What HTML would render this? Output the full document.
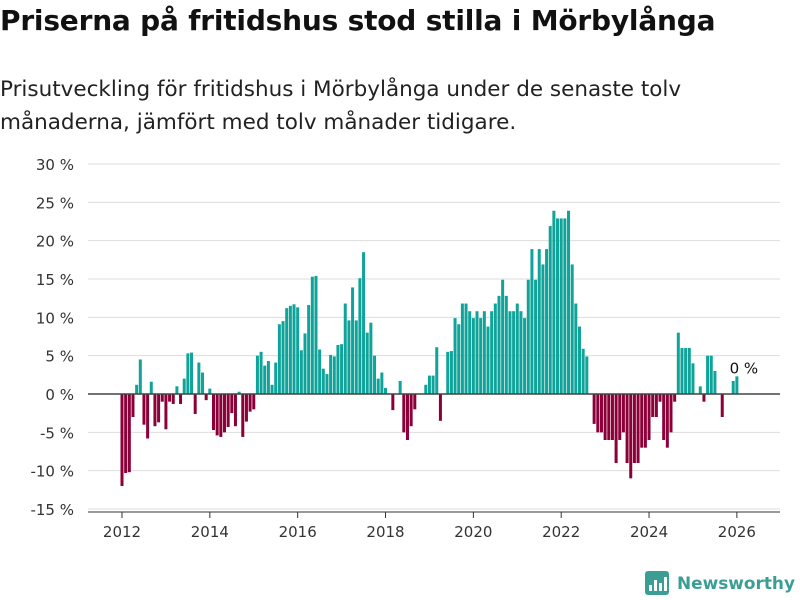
<!DOCTYPE html>
<html><head><meta charset="utf-8"><style>
body{margin:0;width:800px;height:600px;background:#fff;font-family:"DejaVu Sans","Liberation Sans",sans-serif;overflow:hidden;position:relative}
#title{position:absolute;left:0;top:4px;font-size:28px;font-weight:bold;color:#111;letter-spacing:-0.2px;white-space:nowrap}
#sub{position:absolute;left:0;top:73px;font-size:21.5px;line-height:33px;color:#222;white-space:nowrap}
svg{position:absolute;left:0;top:0}
</style></head><body>
<div id="title">Priserna på fritidshus stod stilla i Mörbylånga</div>
<div id="sub">Prisutveckling för fritidshus i Mörbylånga under de senaste tolv<br>månaderna, jämfört med tolv månader tidigare.</div>
<svg id="chart" width="800" height="600"></svg>
<script>
const startYear = 2012;
const values = [-12,-10.3,-10.2,-3,1.2,4.5,-4,-5.8,1.6,-4.2,-3.7,-1,-4.6,-1,-1.3,1,-1.3,2,5.3,5.4,-2.6,4.1,2.8,-0.8,0.7,-4.7,-5.4,-5.6,-5,-4.3,-2.5,-4.2,0.3,-5.6,-3.6,-2.3,-2,
5,5.5,3.7,4.3,1.2,4.1,9.1,9.5,11.2,11.5,11.7,11.3,5.7,7.9,11.6,15.3,15.4,5.8,3.3,2.6,5.1,4.9,6.4,6.5,11.8,9.6,13.9,9.6,15.1,18.5,8,9.3,5,2,2.8,0.8,
0,-2.1,0,1.7,-5,-6,-4.2,-2,0,0,1.2,2.4,2.4,6.1,-3.5,0,
5.5,5.6,9.9,9.1,11.8,11.8,10.8,9.9,10.8,9.9,10.8,8.8,10.8,11.8,12.8,14.9,12.8,10.8,10.8,11.8,10.8,9.9,14.9,18.9,14.9,18.9,16.9,18.9,21.9,23.9,22.9,22.9,22.9,23.9,16.9,11.8,8.8,5.9,4.9,
0,
-3.9,-5,-5,-6,-6,-6,-9,-6,-5,-9,-11,-9,-9,-7,-7,-6,-3,-3,-1,-6,-7,-5,-1,
8,6,6,6,4,0,1,-1,5,5,3,0,-3,0,0,1.7,2.3];
const yTicks = [30,25,20,15,10,5,0,-5,-10,-15];
const xTicks = [2012,2014,2016,2018,2020,2022,2024,2026];
const lastLabel = "0 %";

const svg=document.getElementById('chart');const NS='http://www.w3.org/2000/svg';
const y=v=>394-v*7.667;
const x=m=>122+m*3.66;
function mk(t,a){const e=document.createElementNS(NS,t);for(const k in a)e.setAttribute(k,a[k]);svg.appendChild(e);return e;}
yTicks.forEach(t=>{
 const g=mk('line',{x1:88,x2:780,y1:y(t),y2:y(t),stroke:'#ddd','stroke-width':1});
 
 
 const l=mk('text',{x:74,y:y(t)+6,'text-anchor':'end','font-size':15,fill:'#333'});
 l.textContent=t+' %';
 
 
});
values.forEach((v,i)=>{
 if(v===0)return;
 const r=mk('rect',{x:x(i)-1.5,width:3,y:Math.min(y(v),y(0)),height:Math.abs(y(v)-y(0)),fill:v>0?'#0fa39a':'#8b0038'});
 
 
});
const z=mk('line',{x1:88,x2:780,y1:y(0),y2:y(0),stroke:'#444','stroke-width':1.5});


xTicks.forEach(t=>{
 const px=x((t-startYear)*12);
 const tk=mk('line',{x1:px,x2:px,y1:512,y2:518,stroke:'#333'});
 
 
 const l=mk('text',{x:px,y:537,'text-anchor':'middle','font-size':15,fill:'#333'});
 l.textContent=t;
 
 
});
const ax=mk('line',{x1:88,x2:780,y1:512,y2:512,stroke:'#333'});


const li=values.length-1;
const an=mk('text',{x:x(li)+7,y:y(values[li])-3,'text-anchor':'middle','font-size':15,fill:'#111',stroke:'#fff','stroke-width':3,'paint-order':'stroke'});
an.textContent=lastLabel;


const lg=mk('g',{});


const lr=document.createElementNS(NS,'rect');['x','y','width','height','rx','fill'].forEach((k,i)=>lr.setAttribute(k,[645,571,24,24,3,'#3a9e95'][i]));lg.appendChild(lr);
[[649,585,3,6],[654,580,3,11],[659,583,3,8],[664,577,3,14]].forEach(b=>{const r=document.createElementNS(NS,'rect');r.setAttribute('x',b[0]);r.setAttribute('y',b[1]);r.setAttribute('width',b[2]);r.setAttribute('height',b[3]);r.setAttribute('fill','#fff');lg.appendChild(r);});
const lt=document.createElementNS(NS,'text');lt.setAttribute('x',677);lt.setAttribute('y',589);lt.setAttribute('font-size',17);lt.setAttribute('font-weight','bold');lt.setAttribute('textLength',118);lt.setAttribute('lengthAdjust','spacingAndGlyphs');lt.setAttribute('fill','#3a9e95');lt.textContent='Newsworthy';lg.appendChild(lt);
</script>
</body></html>
